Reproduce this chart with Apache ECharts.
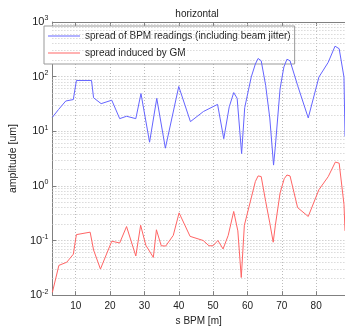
<!DOCTYPE html>
<html><head><meta charset="utf-8">
<script src="https://cdn.jsdelivr.net/npm/echarts@6/dist/echarts.min.js"></script>
<style>html,body{margin:0;padding:0;background:#fff}#c{width:345px;height:331px}</style>
</head><body><div id="c"></div>
<script>
// BPM position [m] and spread of BPM readings (incl. beam jitter) [um]
var bpmS = [3.2, 5.0, 7.1, 9.3, 10.2, 14.6, 15.2, 17.4, 20.5, 22.8, 24.8, 27.5, 29.0, 31.5, 33.6, 36.1, 40.0, 43.4, 47.2, 51.3, 53.1, 54.7, 56.0, 57.0, 58.3, 59.2, 61.1, 62.3, 63.1, 64.0, 65.3, 66.5, 67.6, 68.1, 69.5, 70.6, 71.5, 72.4, 74.6, 77.7, 80.8, 83.5, 85.5, 86.7, 88.1, 88.4];
var bpmV = [18, 25, 35.8, 38, 85, 85, 41, 32, 37, 17, 18.8, 17, 49, 6.3, 40, 4.9, 66, 15, 23, 31, 7.3, 28, 51, 40, 3.9, 27, 98, 170, 215, 195, 69, 17.5, 2.4, 5.1, 60, 150, 208, 195, 69, 17.5, 98, 182, 361, 324, 98, 8];
// spread induced by GM [um]
var gmS = [3.2, 5.1, 7.4, 9.3, 10.2, 14.2, 15.2, 17.2, 20.5, 22.8, 24.8, 27.5, 28.9, 30.4, 32.6, 33.5, 34.9, 36.2, 38.4, 40.1, 43.3, 47.1, 48.8, 50.0, 51.4, 52.9, 54.4, 56.0, 57.2, 58.2, 59.1, 61.1, 62.3, 63.1, 64.0, 65.3, 66.5, 67.5, 68.1, 69.5, 70.7, 71.5, 72.4, 74.6, 77.7, 80.8, 83.5, 85.6, 86.7, 88.1, 88.4];
var gmV = [0.0112, 0.035, 0.040, 0.056, 0.128, 0.142, 0.067, 0.030, 0.097, 0.090, 0.18, 0.052, 0.19, 0.082, 0.049, 0.157, 0.080, 0.079, 0.124, 0.32, 0.119, 0.10, 0.08, 0.08, 0.10, 0.07, 0.124, 0.34, 0.15, 0.021, 0.19, 0.60, 1.2, 1.52, 1.48, 0.52, 0.21, 0.093, 0.185, 0.74, 1.35, 1.58, 1.52, 0.40, 0.275, 0.85, 1.47, 2.73, 2.6, 0.46, 0.15];
var xTicks = [10, 20, 30, 40, 50, 60, 70, 80];
var yMinorTicks = [];
[0.01, 0.1, 1, 10, 100].forEach(function (d) { for (var k = 2; k <= 9; k++) yMinorTicks.push(+(d * k).toPrecision(3)); });

var FONT = 'Liberation Sans';
function pairs(s, v) { return s.map(function (x, i) { return [x, v[i]]; }); }
var chart = echarts.init(document.getElementById('c'), null, { renderer: 'canvas' });
chart.setOption({
  animation: false,
  backgroundColor: '#fff',
  textStyle: { fontFamily: FONT },
  title: { text: 'horizontal', left: 192, textAlign: 'center', top: 4,
    textStyle: { fontSize: 10, fontWeight: 'normal', color: '#222', fontFamily: FONT } },
  legend: {
    orient: 'vertical', left: 44, top: 26, itemWidth: 32, itemHeight: 1, itemGap: 5,
    icon: 'rect',
    padding: [4, 4, 5, 4], backgroundColor: '#fff', borderColor: '#999', borderWidth: 1,
    textStyle: { fontSize: 10, color: '#222', fontFamily: FONT, lineHeight: 12 },
    data: ['spread of BPM readings (including beam jitter)', 'spread induced by GM']
  },
  grid: { left: 40, right: 0, top: 22, bottom: 29 },
  xAxis: [{
    type: 'value', min: 3.2, max: 88.4, position: 'bottom',
    name: 's BPM [m]', nameLocation: 'middle', nameGap: 18,
    nameTextStyle: { fontSize: 10, color: '#222', fontFamily: FONT },
    axisLine: { lineStyle: { color: '#808080' } },
    axisTick: { inside: true, length: 4, customValues: xTicks, lineStyle: { color: '#808080' } },
    axisLabel: { customValues: xTicks, fontSize: 10, color: '#222', margin: 6, fontFamily: FONT },
    splitLine: { show: true, lineStyle: { color: '#bbb', type: [1, 2] } }
  }, {
    type: 'value', min: 3.2, max: 88.4, position: 'top',
    axisLine: { show: true, lineStyle: { color: '#808080' } },
    axisTick: { show: true, inside: true, length: 4, customValues: xTicks, lineStyle: { color: '#808080' } },
    axisLabel: { show: false }, splitLine: { show: false }
  }],
  yAxis: {
    type: 'log', logBase: 10, min: 0.01, max: 1000,
    name: 'amplitude [um]', nameLocation: 'middle', nameGap: 26,
    nameTextStyle: { fontSize: 10.5, color: '#222', fontFamily: FONT },
    axisLine: { show: true, lineStyle: { color: '#808080' } },
    axisTick: { inside: true, length: 4, lineStyle: { color: '#808080' } },
    axisLabel: {
      margin: 4, color: '#222',
      formatter: function (v) { return '{b|10}{e|' + Math.round(Math.log10(v)) + '}'; },
      rich: {
        b: { fontSize: 11, color: '#222', fontFamily: FONT, lineHeight: 14 },
        e: { fontSize: 7, color: '#222', fontFamily: FONT, verticalAlign: 'top', lineHeight: 14, padding: [0, 0, 7, 0] }
      }
    },
    splitLine: { show: true, lineStyle: { color: '#bbb', type: [1, 2] } }
  },
  series: [{
    name: 'spread of BPM readings (including beam jitter)', type: 'line',
    data: pairs(bpmS, bpmV), symbol: 'none', showSymbol: false,
    lineStyle: { color: '#6464ff', width: 1 }, itemStyle: { color: '#6464ff' }, z: 5,
    markLine: {
      silent: true, symbol: 'none', animation: false, label: { show: false },
      lineStyle: { color: '#c8c8c8', type: [1, 2], width: 1 },
      emphasis: { disabled: true },
      data: yMinorTicks.map(function (v) { return { yAxis: v }; })
    }
  }, {
    name: 'spread induced by GM', type: 'line',
    data: pairs(gmS, gmV), symbol: 'none', showSymbol: false,
    lineStyle: { color: '#ff6464', width: 1 }, itemStyle: { color: '#ff6464' }, z: 5
  }]
});
</script></body></html>
